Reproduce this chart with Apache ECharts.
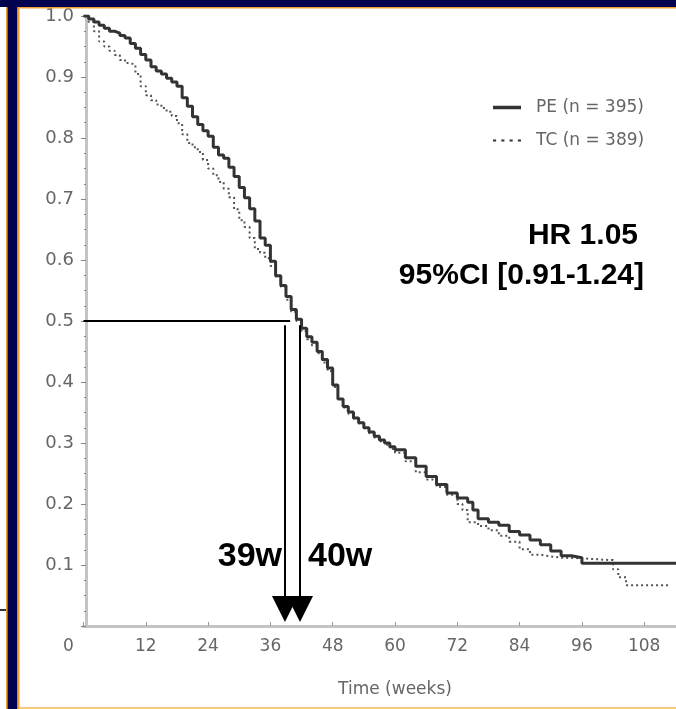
<!DOCTYPE html>
<html>
<head>
<meta charset="utf-8">
<script src="https://cdn.jsdelivr.net/npm/echarts@6/dist/echarts.min.js"></script>
<style>
html,body{margin:0;padding:0;background:#fff;}
#c{width:676px;height:709px;}
</style>
</head>
<body>
<div id="c"></div>
<script>
// ---- data ----
const seriesNames = ['PE (n = 395)', 'TC (n = 389)'];
const xTicks = [0, 12, 24, 36, 48, 60, 72, 84, 96, 108];
const peCurve = [[0,1.0],[1,0.995],[2,0.99],[3,0.985],[4,0.98],[5,0.975],[6,0.972],[7,0.968],[8,0.964],[9,0.955],[10,0.947],[11,0.937],[12,0.928],[13,0.917],[14,0.91],[15,0.905],[16,0.898],[17,0.892],[18,0.885],[19,0.866],[20,0.852],[21,0.835],[22,0.822],[23,0.812],[24,0.803],[25,0.785],[26,0.772],[27,0.767],[28,0.752],[29,0.737],[30,0.719],[31,0.702],[32,0.684],[33,0.664],[34,0.636],[35,0.624],[36,0.598],[37,0.574],[38,0.558],[39,0.54],[40,0.519],[41,0.503],[42,0.488],[43,0.474],[44,0.465],[45,0.45],[46,0.437],[47,0.423],[48,0.395],[49,0.372],[50,0.36],[51,0.351],[52,0.341],[53,0.333],[54,0.325],[55,0.318],[56,0.311],[57,0.305],[58,0.3],[59,0.294],[60,0.289],[62,0.276],[64,0.262],[66,0.245],[68,0.232],[70,0.218],[72,0.21],[74,0.203],[75,0.19],[76,0.176],[78,0.17],[80,0.165],[82,0.155],[84,0.149],[86,0.141],[88,0.133],[90,0.123],[92,0.115],[94,0.112],[96,0.103],[120,0.103]];
const tcCurve = [[0,1.0],[1,0.99],[2,0.975],[3,0.958],[4,0.95],[5,0.943],[6,0.936],[7,0.928],[8,0.923],[9,0.92],[10,0.905],[11,0.885],[12,0.87],[13,0.862],[14,0.855],[15,0.849],[16,0.843],[17,0.836],[18,0.824],[19,0.806],[20,0.792],[21,0.785],[22,0.777],[23,0.764],[24,0.75],[25,0.739],[26,0.728],[27,0.717],[28,0.703],[29,0.683],[30,0.665],[31,0.654],[32,0.636],[33,0.618],[34,0.612],[35,0.603],[36,0.59],[37,0.573],[38,0.556],[39,0.535],[40,0.515],[41,0.5],[42,0.483],[43,0.47],[44,0.46],[45,0.447],[46,0.432],[47,0.418],[48,0.392],[49,0.372],[50,0.358],[51,0.348],[52,0.34],[53,0.332],[54,0.324],[55,0.316],[56,0.309],[57,0.303],[58,0.297],[59,0.29],[60,0.284],[62,0.27],[64,0.252],[66,0.24],[68,0.228],[70,0.215],[72,0.2],[73,0.19],[74,0.17],[76,0.164],[78,0.157],[80,0.148],[82,0.138],[84,0.126],[86,0.117],[88,0.114],[90,0.112],[92,0.111],[96,0.108],[101.5,0.108],[102,0.093],[103,0.08],[104.5,0.067],[113,0.067]];
const medianLevel = 0.5;
const medianLineEnd = 39.8;      // weeks, end of horizontal line
const arrowWeeks = [38.8, 41.7]; // vertical arrows
const arrowTop = 0.493;
const arrowEnd = 0.028;
const medianLabels = ['39w', '40w'];
const hrLines = ['HR 1.05', '95%CI [0.91-1.24]'];

const axisFont = 'DejaVu Sans';
const chart = echarts.init(document.getElementById('c'), null, {renderer: 'canvas'});

const option = {
  animation: false,
  backgroundColor: '#fff',
  grid: {left: 83.5, top: 16, width: 623, height: 610, containLabel: false, outerBoundsMode: 'none'},
  legend: {
    orient: 'vertical', left: 488, top: 94,
    itemWidth: 28, itemHeight: 14, itemGap: 16,
    data: [
      {name: seriesNames[0], icon: 'path://M0 0H28V3.5H0Z'},
      {name: seriesNames[1], icon: 'path://M0 0H3V2H0Z M8 0H11V2H8Z M16 0H19V2H16Z M24 0H27V2H24Z'}
    ],
    itemStyle: {color: '#333'},
    textStyle: {fontFamily: axisFont, fontSize: 17, color: '#666', padding: [0,0,0,10]}
  },
  xAxis: {
    type: 'value', min: 0, max: 120, interval: 12,
    name: 'Time (weeks)', nameLocation: 'middle', nameGap: 55,
    nameTextStyle: {fontFamily: axisFont, fontSize: 17, color: '#666'},
    axisLine: {lineStyle: {color: '#c4c4c4', width: 3}},
    axisTick: {inside: true, length: 4, lineStyle: {color: '#999', width: 1}},
    axisLabel: {
      fontFamily: axisFont, fontSize: 17, color: '#666', margin: 12,
      formatter: v => v === 0 ? '{z|0}' : String(v),
      rich: {z: {fontFamily: axisFont, fontSize: 17, color: '#666', padding: [0, 30, 0, 0]}}
    },
    splitLine: {show: false}
  },
  yAxis: {
    type: 'value', min: 0, max: 1, interval: 0.1, offset: -2.5,
    axisLine: {show: true, lineStyle: {color: '#c4c4c4', width: 3}},
    axisTick: {show: true, length: 5, lineStyle: {color: '#888', width: 1}},
    minorTick: {show: true, splitNumber: 4, length: 2, lineStyle: {color: '#888', width: 1}},
    axisLabel: {
      fontFamily: axisFont, fontSize: 18, color: '#666', margin: 12,
      formatter: v => v === 0 ? '' : v.toFixed(1)
    },
    splitLine: {show: false}
  },
  series: [
    {
      name: seriesNames[0], type: 'line', step: 'end', data: peCurve,
      showSymbol: false, symbol: 'none',
      lineStyle: {color: '#333', width: 3},
      itemStyle: {color: '#333'},
      z: 3,
      markLine: {
        silent: true, animation: false,
        label: {show: false},
        lineStyle: {color: '#000', width: 2, type: 'solid'},
        symbol: ['none', 'none'],
        data: [
          [{coord: [0, medianLevel]}, {coord: [medianLineEnd, medianLevel]}],
          [{coord: [arrowWeeks[0], arrowTop], symbol: 'none'}, {coord: [arrowWeeks[0], arrowEnd], symbol: 'triangle', symbolSize: 26}],
          [{coord: [arrowWeeks[1], arrowTop], symbol: 'none'}, {coord: [arrowWeeks[1], arrowEnd], symbol: 'triangle', symbolSize: 26}]
        ]
      }
    },
    {
      name: seriesNames[1], type: 'line', step: 'end', data: tcCurve,
      showSymbol: false, symbol: 'none',
      lineStyle: {color: '#555', width: 2, type: [2, 3]},
      itemStyle: {color: '#555'},
      z: 2
    }
  ],
  graphic: [
    // slide frame decoration
    {type: 'rect', shape: {x: 0, y: 0, width: 676, height: 7}, style: {fill: '#02024f'}, z: 100},
    {type: 'rect', shape: {x: 6, y: 7, width: 670, height: 1.5}, style: {fill: '#f0a030'}, z: 100},
    {type: 'rect', shape: {x: 6, y: 7, width: 1.5, height: 702}, style: {fill: '#f0a030'}, z: 100},
    {type: 'rect', shape: {x: 7.5, y: 0, width: 10, height: 709}, style: {fill: '#02024f'}, z: 101},
    {type: 'rect', shape: {x: 17.5, y: 7, width: 2, height: 702}, style: {fill: '#f0a030'}, z: 101},
    {type: 'rect', shape: {x: 19.5, y: 707, width: 657, height: 2}, style: {fill: '#f8c880'}, z: 100},
    {type: 'rect', shape: {x: 0, y: 609, width: 6, height: 2}, style: {fill: '#333'}, z: 100},
    // annotations
    {type: 'text', x: 638, y: 236, z: 50, style: {text: hrLines[0], align: 'right', verticalAlign: 'middle', font: 'bold 30px "Liberation Sans", Arial, sans-serif', fill: '#000'}},
    {type: 'text', x: 644, y: 276, z: 50, style: {text: hrLines[1], align: 'right', verticalAlign: 'middle', font: 'bold 30px "Liberation Sans", Arial, sans-serif', fill: '#000'}},
    {type: 'text', x: 282, y: 557, z: 50, style: {text: medianLabels[0], align: 'right', verticalAlign: 'middle', font: 'bold 34px "Liberation Sans", Arial, sans-serif', fill: '#000'}},
    {type: 'text', x: 308, y: 557, z: 50, style: {text: medianLabels[1], align: 'left', verticalAlign: 'middle', font: 'bold 34px "Liberation Sans", Arial, sans-serif', fill: '#000'}}
  ]
};
chart.setOption(option);
</script>
</body>
</html>
